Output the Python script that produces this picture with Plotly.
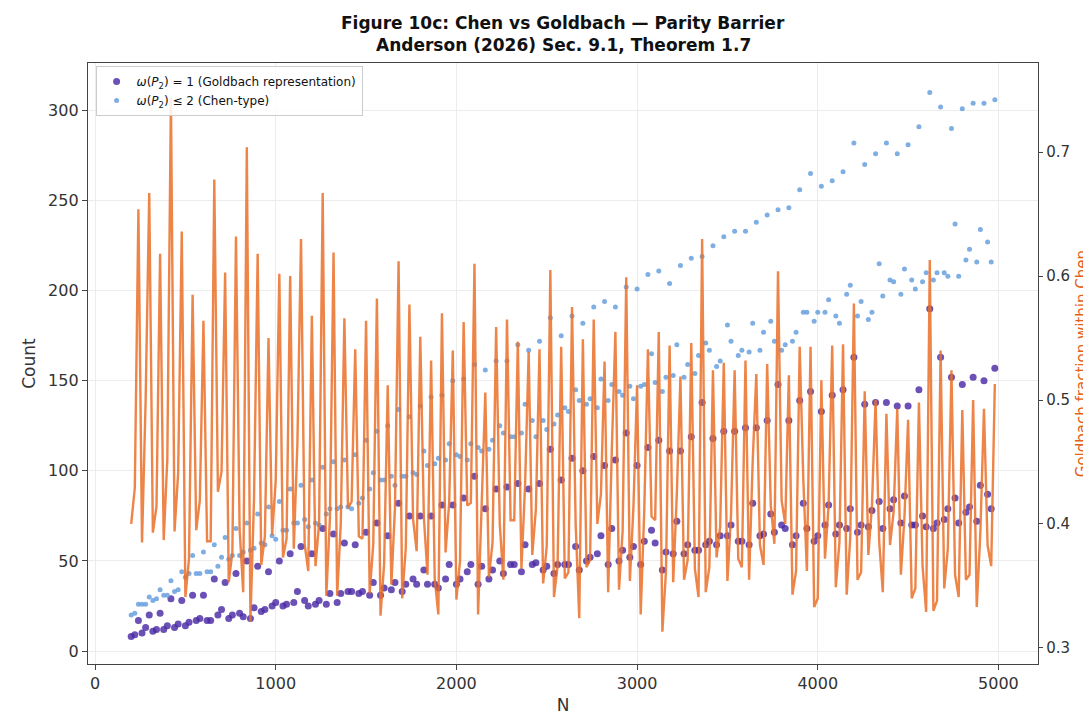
import plotly.graph_objects as go

N = list(range(200, 5000, 20))

goldbach = [
    8, 9, 17, 10, 13, 20, 11, 12, 21, 12, 14, 29, 13, 15, 28, 14, 16, 31, 17, 18, 31,
    17, 17, 40, 20, 23, 38, 18, 20, 43, 21, 19, 50, 18, 24, 47, 22, 23, 44, 25, 27, 50,
    25, 26, 54, 27, 33, 58, 28, 25, 54, 26, 28, 68, 26, 32, 65, 27, 32, 60, 33, 33, 59,
    32, 33, 66, 31, 38, 71, 31, 35, 64, 34, 38, 82, 33, 37, 75, 40, 37, 75, 45, 37, 75,
    37, 35, 81, 40, 48, 81, 37, 40, 85, 44, 48, 97, 37, 47, 79, 40, 45, 90, 50, 43, 91,
    48, 48, 93, 44, 59, 90, 48, 49, 93, 45, 47, 112, 43, 48, 95, 48, 48, 107, 58, 45, 100,
    50, 52, 108, 54, 64, 103, 48, 68, 106, 50, 56, 121, 52, 58, 103, 48, 61, 113, 67, 60, 117,
    45, 55, 111, 54, 72, 111, 54, 59, 119, 56, 56, 138, 59, 61, 118, 59, 64, 122, 64, 70, 122,
    61, 61, 124, 59, 82, 124, 64, 65, 128, 76, 66, 148, 70, 68, 128, 59, 64, 139, 82, 68, 144,
    61, 64, 133, 70, 81, 142, 65, 70, 145, 68, 79, 163, 66, 70, 137, 69, 78, 138, 83, 68, 138,
    79, 84, 136, 71, 86, 136, 70, 70, 145, 75, 69, 190, 68, 71, 163, 73, 79, 152, 85, 71, 148,
    77, 80, 152, 72, 92, 150, 87, 79, 157,
]

chen = [
    20, 21, 26, 26, 26, 30, 28, 29, 34, 31, 31, 39, 33, 34, 44, 41, 43, 53, 43, 43, 55,
    44, 44, 59, 47, 52, 63, 51, 53, 68, 53, 55, 71, 56, 57, 76, 60, 59, 80, 64, 62, 83,
    67, 67, 90, 71, 71, 92, 73, 69, 95, 71, 70, 102, 76, 79, 105, 79, 80, 106, 80, 79, 109,
    82, 85, 117, 90, 99, 122, 95, 95, 125, 97, 92, 134, 97, 97, 130, 99, 98, 136, 111, 103, 141,
    104, 107, 142, 106, 115, 150, 109, 108, 151, 106, 115, 159, 113, 111, 156, 112, 117, 161, 125, 121, 161,
    119, 119, 170, 121, 137, 167, 128, 119, 172, 128, 123, 185, 126, 131, 175, 135, 133, 186, 145, 139, 182,
    137, 140, 191, 135, 151, 194, 139, 148, 191, 144, 142, 202, 147, 140, 201, 147, 148, 209, 165, 149, 211,
    144, 152, 204, 153, 170, 214, 152, 159, 218, 154, 164, 219, 171, 167, 225, 158, 161, 230, 181, 172, 233,
    164, 167, 233, 166, 182, 238, 167, 177, 242, 183, 172, 245, 167, 170, 246, 172, 177, 256, 188, 188, 265,
    183, 188, 258, 188, 195, 261, 186, 182, 266, 198, 203, 282, 186, 194, 270, 184, 188, 276, 215, 197, 282,
    206, 205, 276, 198, 212, 281, 206, 201, 291, 205, 210, 310, 206, 210, 302, 210, 208, 290, 237, 208, 301,
    217, 223, 304, 216, 234, 304, 227, 216, 306,
]

fraction = [
    0.400, 0.429, 0.654, 0.385, 0.500, 0.667, 0.393, 0.414, 0.618, 0.387, 0.452, 0.744,
    0.394, 0.441, 0.636, 0.341, 0.372, 0.585, 0.395, 0.419, 0.564, 0.386, 0.386, 0.678,
    0.426, 0.442, 0.603, 0.353, 0.377, 0.632, 0.396, 0.345, 0.704, 0.321, 0.421, 0.618,
    0.367, 0.390, 0.550, 0.391, 0.435, 0.602, 0.373, 0.388, 0.600, 0.380, 0.465, 0.630,
    0.384, 0.362, 0.568, 0.366, 0.400, 0.667, 0.342, 0.405, 0.619, 0.342, 0.400, 0.566,
    0.413, 0.418, 0.541, 0.390, 0.388, 0.564, 0.344, 0.384, 0.582, 0.326, 0.368, 0.512,
    0.351, 0.413, 0.612, 0.340, 0.381, 0.577, 0.404, 0.378, 0.551, 0.405, 0.359, 0.532,
    0.356, 0.327, 0.570, 0.377, 0.417, 0.540, 0.339, 0.370, 0.563, 0.415, 0.417, 0.610,
    0.327, 0.423, 0.506, 0.357, 0.385, 0.559, 0.400, 0.355, 0.565, 0.403, 0.403, 0.547,
    0.364, 0.431, 0.539, 0.375, 0.412, 0.541, 0.352, 0.382, 0.605, 0.341, 0.366, 0.543,
    0.356, 0.361, 0.575, 0.400, 0.324, 0.549, 0.365, 0.371, 0.565, 0.400, 0.424, 0.531,
    0.345, 0.459, 0.555, 0.347, 0.394, 0.599, 0.354, 0.414, 0.512, 0.327, 0.412, 0.541,
    0.406, 0.403, 0.555, 0.313, 0.362, 0.544, 0.353, 0.424, 0.519, 0.355, 0.371, 0.546,
    0.364, 0.341, 0.630, 0.345, 0.365, 0.524, 0.373, 0.398, 0.530, 0.354, 0.407, 0.524,
    0.372, 0.365, 0.532, 0.355, 0.451, 0.521, 0.383, 0.367, 0.529, 0.415, 0.384, 0.604,
    0.419, 0.400, 0.520, 0.343, 0.362, 0.543, 0.436, 0.362, 0.543, 0.333, 0.340, 0.516,
    0.372, 0.415, 0.544, 0.349, 0.385, 0.545, 0.343, 0.389, 0.578, 0.355, 0.361, 0.507,
    0.375, 0.415, 0.500, 0.386, 0.345, 0.489, 0.383, 0.410, 0.493, 0.359, 0.406, 0.484,
    0.340, 0.348, 0.498, 0.366, 0.329, 0.613, 0.330, 0.338, 0.540, 0.348, 0.380, 0.524,
    0.359, 0.341, 0.492, 0.355, 0.359, 0.500, 0.333, 0.393, 0.493, 0.383, 0.366, 0.513,
]

x_ticks = [0, 1000, 2000, 3000, 4000, 5000]
left_ticks = [0, 50, 100, 150, 200, 250, 300]
right_ticks = [0.3, 0.4, 0.5, 0.6, 0.7]

title_lines = [
    "Figure 10c: Chen vs Goldbach — Parity Barrier",
    "Anderson (2026) Sec. 9.1, Theorem 1.7",
]
right_label = "Goldbach fraction within Chen"

FONT = "DejaVu Sans"
TXT = "#333333"
AX = "#444444"

fig = go.Figure()
fig.add_trace(go.Scatter(
    x=N, y=goldbach, mode="markers", yaxis="y",
    name="<i>ω</i>(<i>P</i><sub>2</sub>) = 1 (Goldbach representation)",
    marker=dict(size=7, color="rgba(75,42,165,0.82)", line=dict(width=0)),
))
fig.add_trace(go.Scatter(
    x=N, y=chen, mode="markers", yaxis="y",
    name="<i>ω</i>(<i>P</i><sub>2</sub>) ≤ 2 (Chen-type)",
    marker=dict(size=5, color="rgba(105,160,222,0.85)", line=dict(width=0)),
))
fig.add_trace(go.Scatter(
    x=N, y=fraction, mode="lines", yaxis="y2", showlegend=False,
    line=dict(color="rgba(234,110,40,0.85)", width=2.4),
))

# title lines placed just above the plot area
for txt, ypos in zip(title_lines, [1.066, 1.0297]):
    fig.add_annotation(
        text=f"<b>{txt}</b>", xref="paper", yref="paper", x=0.5, y=ypos,
        xanchor="center", yanchor="middle", showarrow=False,
        font=dict(family=FONT, size=17, color="#111111"),
    )

# right-axis label (placed explicitly so it stays inside the canvas)
fig.add_annotation(
    text=right_label, xref="paper", yref="paper", x=1.046, y=0.5,
    xanchor="center", yanchor="middle", textangle=-90, showarrow=False,
    borderpad=0, font=dict(family=FONT, size=15, color="#e4601c"),
)

fig.update_layout(
    width=1091, height=715,
    paper_bgcolor="white", plot_bgcolor="white",
    margin=dict(l=80, r=61, t=55, b=54),
    font=dict(family=FONT, color=TXT, size=16),
    xaxis=dict(
        range=[-39, 5219], tickvals=x_ticks, ticktext=[str(v) for v in x_ticks],
        showgrid=True, gridcolor="#ececec", gridwidth=0.8, zeroline=False,
        showline=True, linecolor=AX, linewidth=1.3, mirror=True,
        ticks="outside", ticklen=5, tickcolor=AX, tickfont=dict(size=16, color=TXT),
        title=dict(text="N", font=dict(size=17, color=TXT), standoff=6),
    ),
    yaxis=dict(
        range=[-7.2, 326.4], tickvals=left_ticks,
        showgrid=True, gridcolor="#ececec", gridwidth=0.8, zeroline=False,
        showline=True, linecolor=AX, linewidth=1.3,
        ticks="outside", ticklen=5, tickcolor=AX, tickfont=dict(size=16, color=TXT),
        title=dict(text="Count", font=dict(size=17, color=TXT), standoff=8),
    ),
    yaxis2=dict(
        range=[0.287, 0.772], tickvals=right_ticks, ticktext=[f"{v:.1f}" for v in right_ticks],
        overlaying="y", side="right", showgrid=False, zeroline=False,
        showline=True, linecolor=AX, linewidth=1.3,
        ticks="outside", ticklen=4, tickcolor=AX, tickfont=dict(size=15, color=TXT),
    ),
    legend=dict(
        x=0.008, y=0.995, xanchor="left", yanchor="top",
        bgcolor="rgba(255,255,255,0.85)", bordercolor="#cccccc", borderwidth=1,
        font=dict(size=12, color="#111111"), itemsizing="trace", tracegroupgap=2,
    ),
)

fig.write_html("out.html")
